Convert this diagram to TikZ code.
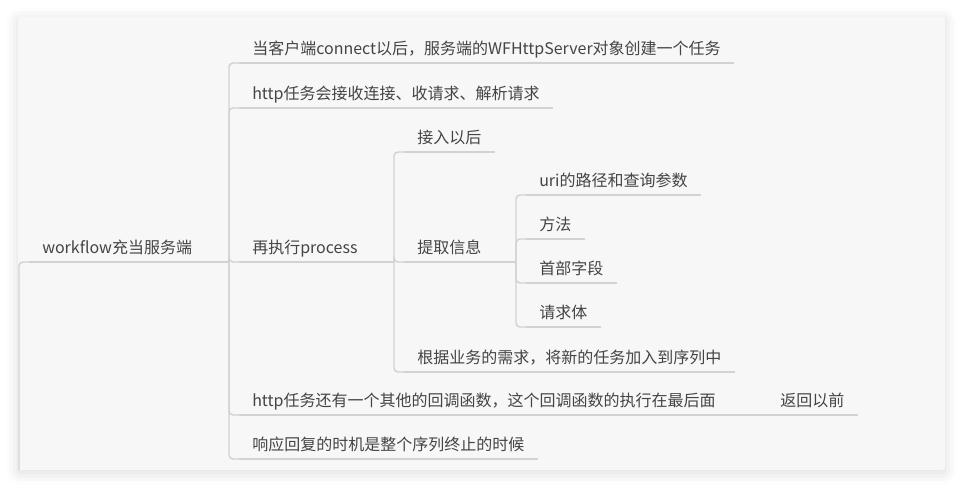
\documentclass[tikz,border=0pt]{standalone}
\usepackage{fontspec}
\setmainfont{Noto Sans CJK SC}
\usepackage{tikz}
\usetikzlibrary{shadows.blur}

\definecolor{cardbg}{HTML}{F7F7F7}
\definecolor{linegray}{HTML}{D2D2D2}
\definecolor{txtgray}{HTML}{444444}

\begin{document}
\begin{tikzpicture}[x=0.75pt, y=-0.75pt,
    topic/.style={anchor=south west, inner xsep=9.75pt, inner ysep=6pt,
      text depth=0pt, text=txtgray, font=\fontsize{12pt}{14pt}\selectfont},
    branch/.style={draw=linegray, line width=1.1pt, rounded corners=3pt}]

    \useasboundingbox (0,0) rectangle (963,488);
    \fill[cardbg, rounded corners=2pt, blur shadow={shadow xshift=0pt, shadow yshift=-2pt,
      shadow blur radius=9pt, shadow opacity=15}] (18,17) rectangle (945,470);

    % forks
    \coordinate (in) at (19,470);
    \coordinate (f1) at (229,262);
    \coordinate (f2) at (394,262);
    \coordinate (f3) at (516,262);

    \node[topic] (root) at (29,262) {workflow充当服务端};

    \node[topic] (t1) at (239,63) {当客户端connect以后，服务端的WFHttpServer对象创建一个任务};
    \node[topic] (t2) at (239,108) {http任务会接收连接、收请求、解析请求};
    \node[topic] (t3) at (239,262) {再执行process};
    \node[topic] (t4) at (239,415) {http任务还有一个其他的回调函数，这个回调函数的执行在最后面};
    \node[topic] (t5) at (239,459) {响应回复的时机是整个序列终止的时候};
    \node[topic] (t41) at (767,415) {返回以前};

    \node[topic] (p1) at (404,152) {接入以后};
    \node[topic] (p2) at (404,262) {提取信息};
    \node[topic] (p3) at (404,372) {根据业务的需求，将新的任务加入到序列中};

    \node[topic] (q1) at (526,195) {uri的路径和查询参数};
    \node[topic] (q2) at (526,239) {方法};
    \node[topic] (q3) at (526,283) {首部字段};
    \node[topic] (q4) at (526,327) {请求体};

    % underlines
    \foreach \n in {root,t1,t2,t3,t4,t5,t41,p1,p2,p3,q1,q2,q3,q4}
      \draw[branch] (\n.south west) -- (\n.south east);

    \draw[branch] (in) |- (root.south west);
    \draw[branch] (root.south east) -- (f1);
    \foreach \n in {t1,t2,t3,t4,t5}
      \draw[branch] (f1) |- (\n.south west);
    \draw[branch] (t3.south east) -- (f2);
    \foreach \n in {p1,p2,p3}
      \draw[branch] (f2) |- (\n.south west);
    \draw[branch] (p2.south east) -- (f3);
    \foreach \n in {q1,q2,q3,q4}
      \draw[branch] (f3) |- (\n.south west);
    \draw[branch] (t4.south east) -- (t41.south west);
\end{tikzpicture}
\end{document}
